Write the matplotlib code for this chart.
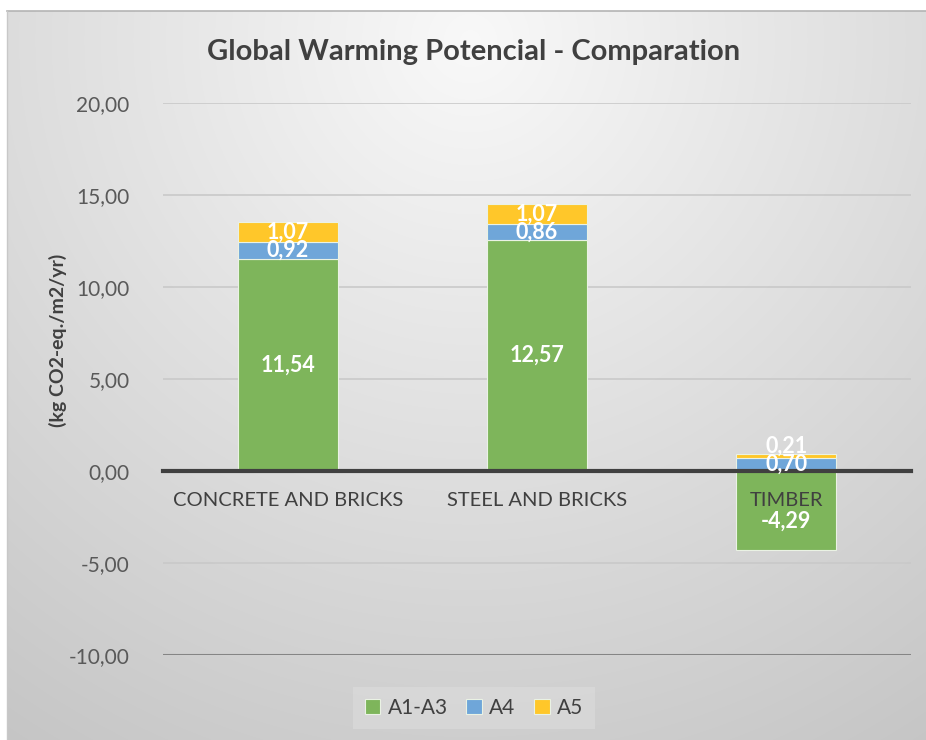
import numpy as np
import matplotlib
matplotlib.use("Agg")
import matplotlib.pyplot as plt

plt.rcParams['font.family'] = ['Lato', 'DejaVu Sans']

categories = ["CONCRETE AND BRICKS", "STEEL AND BRICKS", "TIMBER"]
series_names = ["A1-A3", "A4", "A5"]
a1_a3 = [11.54, 12.57, -4.29]
a4 = [0.92, 0.86, 0.70]
a5 = [1.07, 1.07, 0.21]
yticks = [-10, -5, 0, 5, 10, 15, 20]
ytick_labels = ["-10,00", "-5,00", "0,00", "5,00", "10,00", "15,00", "20,00"]
title = "Global Warming Potencial - Comparation"
ylabel = "(kg CO2-eq./m2/yr)"

colors = ["#7EB55B", "#6FA6D9", "#FFC72A"]
W, H = 926, 740
fig = plt.figure(figsize=(W / 100, H / 100), dpi=100)

# background panel with radial gradient
bx0, by1 = 7 / W, (H - 11) / H
bg = fig.add_axes([bx0, 0, 1 - bx0, by1])
yy, xx = np.mgrid[11:H, 7:W]
d = np.hypot((xx - 470) * 1.0, (yy - 40) * 1.0)
g = np.clip(0.975 - 0.00024 * d, 0, 1)
bg.imshow(np.dstack([g, g, g]), aspect='auto', extent=[0, 1, 0, 1], origin='upper')
bg.set_xticks([]); bg.set_yticks([])
for s in bg.spines.values():
    s.set_visible(False)
fig.add_artist(plt.Line2D([bx0, 1], [by1, by1], color="#b4b4b4", lw=1.2))
fig.add_artist(plt.Line2D([bx0, bx0], [0, by1], color="#c8c8c8", lw=1.0))

ax = fig.add_axes([163 / W, (H - 655) / H, (911 - 163) / W, (655 - 103) / H])
ax.set_facecolor('none')
x = np.arange(len(categories))
width = 0.4

pos_base = [0.0] * len(categories)
bars_all = []
for vals, col, name in zip([a1_a3, a4, a5], colors, series_names):
    b = [pos_base[i] if v >= 0 else 0.0 for i, v in enumerate(vals)]
    bars = ax.bar(x, vals, width, bottom=b, color=col, edgecolor="#eaf2e4",
                  linewidth=0.8, label=name, zorder=1)
    for i, v in enumerate(vals):
        if v >= 0:
            pos_base[i] += v
    bars_all.append((bars, vals, b))

for bars, vals, b in bars_all:
    for i, v in enumerate(vals):
        yc = b[i] + v / 2
        off = 0
        if 0 <= v < 0.5:
            off = 7
        if v < 0:
            off = -8
        ax.annotate(f"{v:.2f}".replace(".", ","), (x[i], yc), xytext=(0, off),
                    textcoords='offset points', ha='center', va='center',
                    color='white', fontsize=15.5, fontweight='bold', zorder=4)

ax.set_ylim(-10, 20)
ax.set_xlim(-0.5, 2.5)
ax.set_yticks(yticks)
ax.set_yticklabels(ytick_labels)
ax.set_xticks(x)
ax.set_xticklabels(categories)
ax.tick_params(axis='y', length=0, pad=24, labelsize=15, labelcolor="#595959")
ax.tick_params(axis='x', length=0, pad=15, labelsize=14.5, labelcolor="#404040")
ax.yaxis.grid(True, color="#c9c9c9", lw=1.2)
ax.set_axisbelow(True)
ax.xaxis.set_zorder(2.5)
for s in ['top', 'right', 'left']:
    ax.spines[s].set_visible(False)
ax.spines['bottom'].set_position(('data', 0))
ax.spines['bottom'].set_color("#404040")
ax.spines['bottom'].set_linewidth(3)
ax.spines['bottom'].set_zorder(2.6)
ax.axhline(-10, color="#858585", lw=2.2, zorder=0.6)

ax.set_ylabel(ylabel, fontsize=14, fontweight='bold', color="#404040")
ax.yaxis.set_label_coords((67 - 163) / 748, (655 - 340) / 552)
fig.text(474 / W, (H - 52) / H, title, ha='center', va='center', fontsize=21,
         fontweight='bold', color="#404040")

leg = fig.legend(loc='center', bbox_to_anchor=(474 / W, (H - 708) / H), ncol=3,
                 frameon=True, fontsize=15, handlelength=0.75, handleheight=0.75,
                 handletextpad=0.35, columnspacing=0.9, borderpad=0.55)
leg.get_frame().set_facecolor("#d9d9d9")
leg.get_frame().set_edgecolor("none")
leg.get_frame().set_boxstyle('square', pad=0)
for t in leg.get_texts():
    t.set_color("#404040")

fig.savefig("out.png", dpi=100)
